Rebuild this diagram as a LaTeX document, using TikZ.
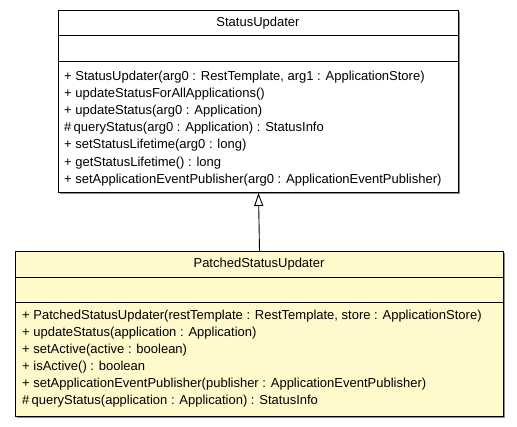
\documentclass[tikz,border=0pt]{standalone}
\usepackage{fontspec}
\setmainfont{Liberation Sans}
\definecolor{notefill}{HTML}{FFF9CC}
\definecolor{shadowgray}{HTML}{8C8C8C}
\tikzset{
  classbox/.style={draw, line width=1pt, anchor=north west, inner sep=0pt},
  member/.style={anchor=west, inner sep=0pt, font=\fontsize{13}{15}\selectfont},
  classname/.style={inner sep=0pt, font=\fontsize{13}{15}\selectfont},
  extends/.style={draw, line width=0.9pt, -{Triangle[open, width=9pt, length=13pt]}}
}
\usetikzlibrary{arrows.meta}
\begin{document}
\begin{tikzpicture}[x=1pt, y=-1pt]
  \useasboundingbox (0,0) rectangle (517,427);
  % Super class with shadow
  \fill[shadowgray] (60,12) rectangle (460,194);
  \node[classbox, fill=white, minimum width=400pt, minimum height=182pt] (super) at (58,10) {};
  \draw[line width=1pt] (58,36) -- (458,36);
  \draw[line width=1pt] (58,62) -- (458,62);
  \node[classname] (supername) at (258,23) {StatusUpdater};
  \foreach \txt [count=\i] in {%
      {+ StatusUpdater(arg0 : RestTemplate, arg1 : ApplicationStore)},
      {+ updateStatusForAllApplications()},
      {+ updateStatus(arg0 : Application)},
      {\#\,queryStatus(arg0 : Application) : StatusInfo},
      {+ setStatusLifetime(arg0 : long)},
      {+ getStatusLifetime() : long},
      {+ setApplicationEventPublisher(arg0 : ApplicationEventPublisher)}}
    \node[member] (supm\i) at (64,{59.5+17.2*\i}) {\txt};
  % Sub class with shadow
  \fill[shadowgray] (17,253) rectangle (505,418);
  \node[classbox, fill=notefill, minimum width=488pt, minimum height=165pt] (sub) at (15,251) {};
  \draw[line width=1pt] (15,278) -- (503,278);
  \draw[line width=1pt] (15,303) -- (503,303);
  \node[classname] (subname) at (259,264.5) {PatchedStatusUpdater};
  \foreach \txt [count=\i] in {%
      {+ PatchedStatusUpdater(restTemplate : RestTemplate, store : ApplicationStore)},
      {+ updateStatus(application : Application)},
      {+ setActive(active : boolean)},
      {+ isActive() : boolean},
      {+ setApplicationEventPublisher(publisher : ApplicationEventPublisher)},
      {\#\,queryStatus(application : Application) : StatusInfo}}
    \node[member] (subm\i) at (22,{299+17*\i}) {\txt};
  % Generalisation
  \draw[extends] (sub.north) -- (super.south);
\end{tikzpicture}
\end{document}
